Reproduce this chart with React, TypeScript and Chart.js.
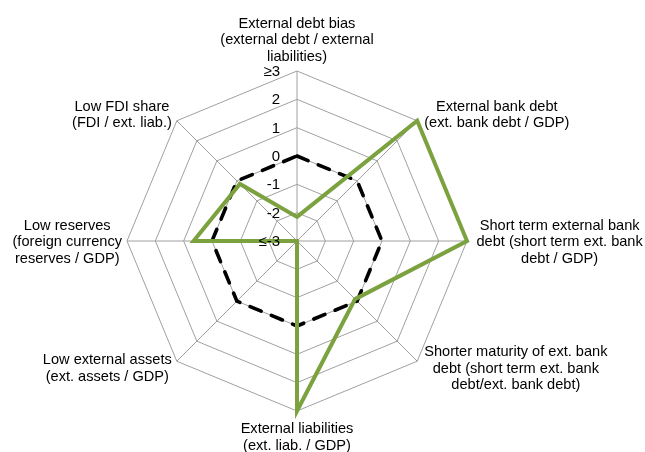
import { useEffect, useRef } from 'react';
import { Chart, registerables } from 'chart.js';

Chart.register(...registerables);

const categories: string[][] = [
  ['External debt bias', '(external debt / external', 'liabilities)'],
  ['External bank debt', '(ext. bank debt / GDP)'],
  ['Short term external bank', 'debt (short term ext. bank', 'debt / GDP)'],
  ['Shorter maturity of ext. bank', 'debt (short term ext. bank', 'debt/ext. bank debt)'],
  ['External liabilities', '(ext. liab. / GDP)'],
  ['Low external assets', '(ext. assets / GDP)'],
  ['Low reserves', '(foreign currency', 'reserves / GDP)'],
  ['Low FDI share', '(FDI / ext. liab.)'],
];

const countryValues = [-2.15, 3, 3, -0.1, 3, -3, 0.65, -0.15];
const benchmarkValues = [0, 0, 0, 0, 0, 0, 0, 0];

const tickValues = [-3, -2, -1, 0, 1, 2, 3];
const tickLabels = ['≤-3', '-2', '-1', '0', '1', '2', '≥3'];

const LABEL_FONT = '14.6px "Liberation Sans", Arial, sans-serif';
const TICK_FONT = '15px "Liberation Sans", Arial, sans-serif';

const labelPlugin = {
  id: 'customLabels',
  afterDatasetsDraw(chart: any) {
    const scale = chart.scales.r;
    const ctx = chart.ctx as CanvasRenderingContext2D;
    ctx.save();
    ctx.fillStyle = '#000000';
    ctx.font = TICK_FONT;
    ctx.textAlign = 'right';
    ctx.textBaseline = 'middle';
    scale.ticks.forEach((t: any) => {
      const d = scale.getDistanceFromCenterForValue(t.value);
      ctx.fillText(t.label, scale.xCenter - 17, scale.yCenter - d + 1);
    });
    ctx.font = LABEL_FONT;
    const LH = 16.5;
    (chart.data.labels as string[][]).forEach((lines, i) => {
      const p = scale.getPointPosition(i, scale.drawingArea);
      const theta = p.angle + Math.PI / 2;
      const sx = Math.sin(theta);
      const cy = Math.cos(theta);
      const w = Math.max(...lines.map((l) => ctx.measureText(l).width));
      const n = lines.length;
      let cx: number;
      if (Math.abs(sx) < 0.01) cx = p.x;
      else if (sx > 0) cx = p.x + (Math.abs(cy) < 0.01 ? 9.5 : 7) + w / 2;
      else cx = p.x - 5 - w / 2;
      let firstBaseline: number;
      if (cy > 0.99) firstBaseline = p.y - 10.5 - (n - 1) * LH;
      else if (cy < -0.99) firstBaseline = p.y + 22.3;
      else {
        const center = p.y + (cy > 0.01 ? -7 : cy < -0.01 ? 6 : 0);
        firstBaseline = center + 5.3 - ((n - 1) * LH) / 2;
      }
      ctx.textAlign = 'center';
      ctx.textBaseline = 'alphabetic';
      lines.forEach((l, k) => ctx.fillText(l, cx, firstBaseline + k * LH));
    });
    ctx.restore();
  },
};

export default function App() {
  const canvasRef = useRef<HTMLCanvasElement | null>(null);

  useEffect(() => {
    if (!canvasRef.current) return;
    const chart = new Chart(canvasRef.current, {
      type: 'radar',
      data: {
        labels: categories,
        datasets: [
          {
            label: 'Country',
            data: countryValues,
            borderColor: '#7ba23f',
            borderWidth: 4,
            borderJoinStyle: 'miter',
            fill: false,
            pointRadius: 0,
            pointHoverRadius: 0,
            tension: 0,
          },
          {
            label: 'Benchmark',
            data: benchmarkValues,
            borderColor: '#000000',
            borderWidth: 3.6,
            borderDash: [12, 11],
            borderCapStyle: 'round',
            fill: false,
            pointRadius: 0,
            pointHoverRadius: 0,
            tension: 0,
          },
        ],
      },
      options: {
        animation: false,
        responsive: true,
        maintainAspectRatio: false,
        layout: { padding: { left: 127, right: 178, top: 71, bottom: 41 } },
        plugins: {
          legend: { display: false },
          tooltip: { enabled: false },
        },
        scales: {
          r: {
            min: -3,
            max: 3,
            beginAtZero: false,
            ticks: {
              display: false,
              stepSize: 1,
              callback: (v: any) => {
                const idx = tickValues.indexOf(Number(v));
                return idx >= 0 ? tickLabels[idx] : '';
              },
            },
            grid: { color: '#a0a0a0', lineWidth: 1, circular: false },
            angleLines: { color: '#a0a0a0', lineWidth: 1 },
            pointLabels: { display: false },
          },
        },
      },
      plugins: [labelPlugin],
    });
    return () => chart.destroy();
  }, []);

  return (
    <div style={{ position: 'absolute', left: 0, top: 0, width: 645, height: 452, background: '#ffffff' }}>
      <canvas ref={canvasRef} />
    </div>
  );
}
